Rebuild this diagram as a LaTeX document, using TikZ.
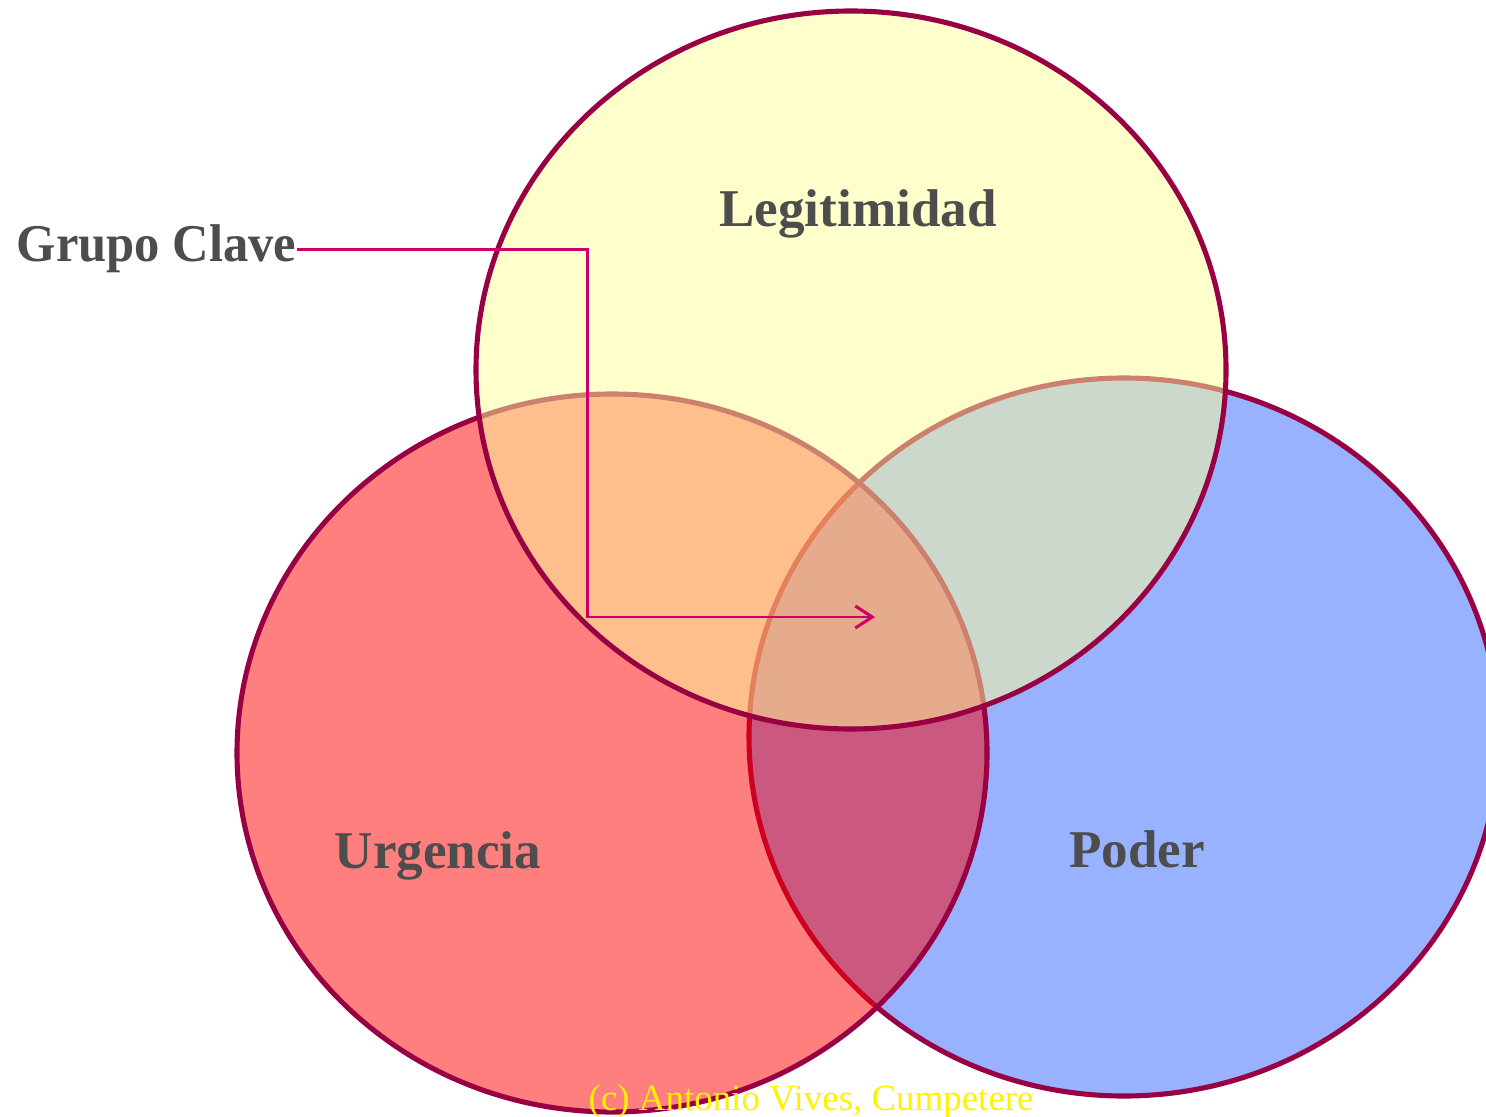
\documentclass[tikz,border=0pt]{standalone}
\usepackage{fontspec}
\setmainfont{Liberation Serif}
\usetikzlibrary{arrows.meta}
\definecolor{rim}{RGB}{153,0,68}
\definecolor{pointer}{RGB}{204,0,102}
\definecolor{labelgray}{RGB}{77,77,77}
\definecolor{urgfill}{RGB}{255,0,0}
\definecolor{podfill}{RGB}{51,102,255}
\definecolor{legfill}{RGB}{255,255,153}
\tikzset{
  set/.style={draw=rim, line width=1.45pt, fill opacity=0.5},
  setlabel/.style={anchor=base, inner sep=0pt, text=labelgray, font=\fontsize{15.1}{18}\selectfont\bfseries},
  pointer/.style={draw=pointer, line width=0.85pt, -{Straight Barb[length=0.17cm,width=0.22cm]}},
}
\begin{document}
\begin{tikzpicture}[x=0.01cm, y=-0.01cm]
\useasboundingbox (0,0) rectangle (1486,1116);
\fill[white] (0,0) rectangle (1486,1116);
\path[set, fill=podfill] (1124,737) ellipse [x radius=375, y radius=359];
\path[set, fill=urgfill] (612,753) ellipse [x radius=375, y radius=359];
\path[set, fill=legfill] (851,370) ellipse [x radius=375, y radius=359];
\node[setlabel] (legitimidad) at (858,227) {Legitimidad};
\node[setlabel] (urgencia) at (438,868) {Urgencia};
\node[setlabel] (poder) at (1137,867) {Poder};
\node[setlabel, anchor=base east] (grupo) at (297,262) {\scalebox{0.952}[1]{Grupo Clave}};
\coordinate (bend) at (587,617);
\coordinate (tip) at (875,617);
\draw[pointer] (grupo.east) -- (grupo.east -| bend) |- (tip);
\node[anchor=base west, inner sep=0pt, text=yellow, font=\fontsize{10.5}{12}\selectfont] (copyright) at (588,1110) {(c) Antonio Vives, Cumpetere};
\end{tikzpicture}
\end{document}
